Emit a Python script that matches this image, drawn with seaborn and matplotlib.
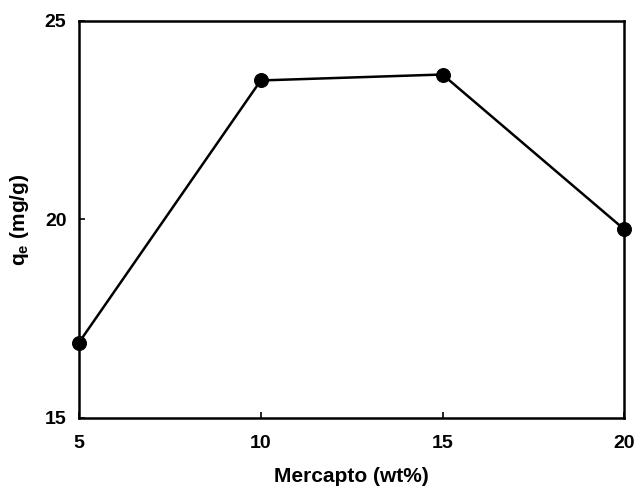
import matplotlib
matplotlib.use("Agg")
import matplotlib.pyplot as plt
import seaborn as sns
import pandas as pd

mercapto = [5, 10, 15, 20]
qe = [16.9, 23.5, 23.65, 19.75]
xticks = [5, 10, 15, 20]
yticks = [15, 20, 25]

sns.set_theme(style="ticks")
plt.rcParams['font.family'] = ['Liberation Sans', 'DejaVu Sans']
plt.rcParams['font.weight'] = 'bold'
plt.rcParams['mathtext.fontset'] = 'custom'
plt.rcParams['mathtext.rm'] = 'Liberation Sans'
plt.rcParams['mathtext.bf'] = 'Liberation Sans:bold'
plt.rcParams['text.color'] = 'black'
plt.rcParams['axes.labelcolor'] = 'black'
plt.rcParams['xtick.color'] = 'black'
plt.rcParams['ytick.color'] = 'black'

df = pd.DataFrame({"x": mercapto, "y": qe})
fig = plt.figure(figsize=(6.37, 4.86), dpi=100)
ax = fig.add_axes([0.124, 0.140, 0.856, 0.817])
sns.lineplot(data=df, x="x", y="y", ax=ax, color="black", linewidth=1.8,
             marker="o", markersize=10, markeredgecolor="black", clip_on=False)
ax.set_xlim(5, 20)
ax.set_ylim(15, 25)
ax.set_xticks(xticks)
ax.set_yticks(yticks)
ax.set_xticklabels([str(v) for v in xticks], fontsize=14, fontweight='bold')
ax.set_yticklabels([str(v) for v in yticks], fontsize=14, fontweight='bold')
ax.tick_params(direction='in', length=4, width=1.2, top=False, right=False)
ax.tick_params(axis='x', pad=12)
ax.tick_params(axis='y', pad=9)
for s in ax.spines.values():
    s.set_linewidth(1.8)
    s.set_color('black')
ax.set_xlabel("Mercapto (wt%)", fontsize=15, fontweight='bold', labelpad=11)
ax.set_ylabel(r"q$_\mathrm{e}$ (mg/g)", fontsize=15, fontweight='bold', labelpad=10)
fig.savefig("out.png", dpi=100)
